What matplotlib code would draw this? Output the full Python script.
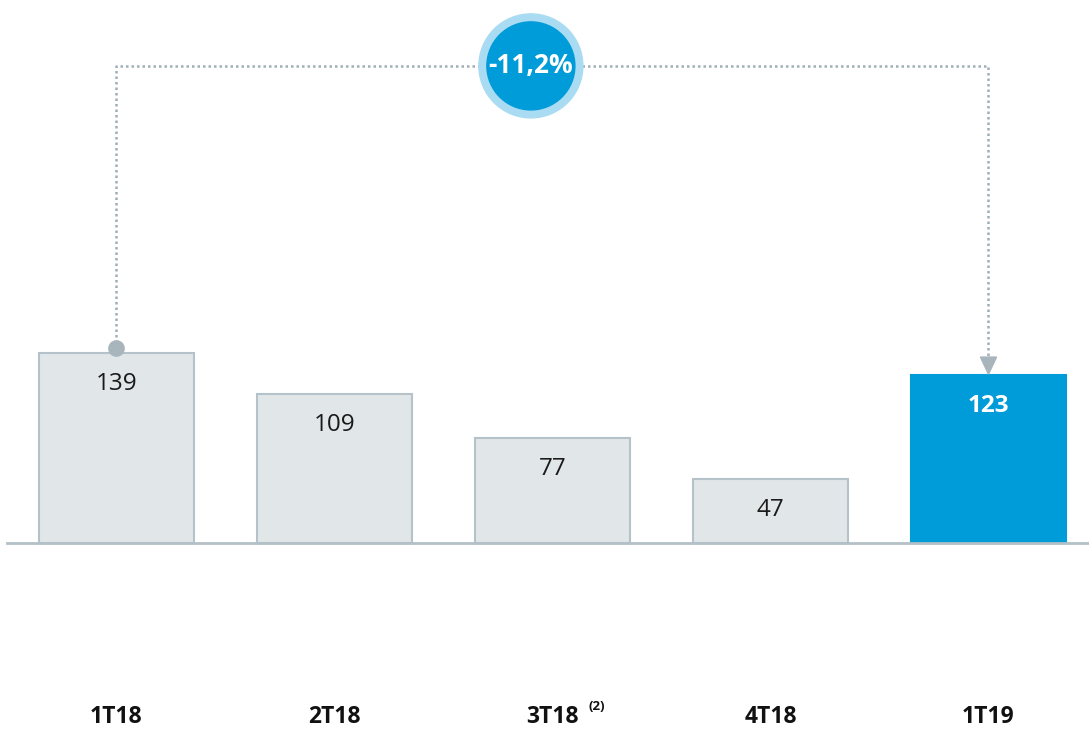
import matplotlib.pyplot as plt
import matplotlib
from matplotlib.patches import Ellipse, Polygon

matplotlib.rcParams['font.family'] = ['Open Sans', 'DejaVu Sans']

# data
categories = ['1T18', '2T18', '3T18', '4T18', '1T19']
values = [139, 109, 77, 47, 123]
change_label = '-11,2%'
footnote = '(2)'

gray_fill = '#e1e6e9'
gray_edge = '#b5c2ca'
blue = '#009bd9'
light_blue = '#a9dcf2'
line_gray = '#a0aeb7'

fig = plt.figure(figsize=(10.89, 7.30), dpi=100)
ax = fig.add_axes([0, 0, 1, 1])
ax.set_xlim(-0.534, 4.461)
ax.set_ylim(-136.8, 397.2)
ax.axis('off')

x = list(range(len(categories)))
colors = [gray_fill] * 4 + [blue]
edges = [gray_edge] * 4 + [blue]
ax.bar(x, values, width=0.71, color=colors, edgecolor=edges, linewidth=1.5, zorder=2)

# baseline
ax.plot([-0.50, 4.461], [0, 0], color='#b3c0c8', linewidth=2, zorder=3)

# value labels
for i, v in enumerate(values):
    last = i == len(values) - 1
    ax.text(i, v - 23, str(v), ha='center', va='center', fontsize=17.5,
            color='white' if last else '#1a1a1a',
            fontweight='bold' if last else 'normal', zorder=4)

# category labels
for i, c in enumerate(categories):
    ax.text(i, -127, c, ha='center', va='center', fontsize=16.5, fontweight='bold', color='#111111')
ax.annotate(footnote, xy=(2, -127), xytext=(26, 7), textcoords='offset points',
            ha='left', va='center', fontsize=9.5, fontweight='bold', color='#111111')

# connector between first and last bar
top_y = 349
ax.plot([0, 0, 4, 4], [values[0] + 4, top_y, top_y, values[4] + 12],
        color=line_gray, linestyle=(0, (1, 1.2)), linewidth=1.8, zorder=1)
ax.plot(0, values[0] + 4, 'o', color='#a8b5bd', markersize=11, zorder=5)
ax.add_patch(Polygon([[4 - 0.037, values[4] + 13], [4 + 0.037, values[4] + 13], [4, values[4] + 0.5]],
                     closed=True, color='#a8b5bd', zorder=5))

# change bubble
cx = 1.901
ax.add_patch(Ellipse((cx, top_y), 2 * 52 / 218, 2 * 52 / 1.367, color=light_blue, zorder=6))
ax.add_patch(Ellipse((cx, top_y), 2 * 44 / 218, 2 * 44 / 1.367, color=blue, zorder=7))
ax.text(cx, top_y, change_label, ha='center', va='center', fontsize=19,
        fontweight='bold', color='white', zorder=8)

fig.savefig('out.png', dpi=100)
